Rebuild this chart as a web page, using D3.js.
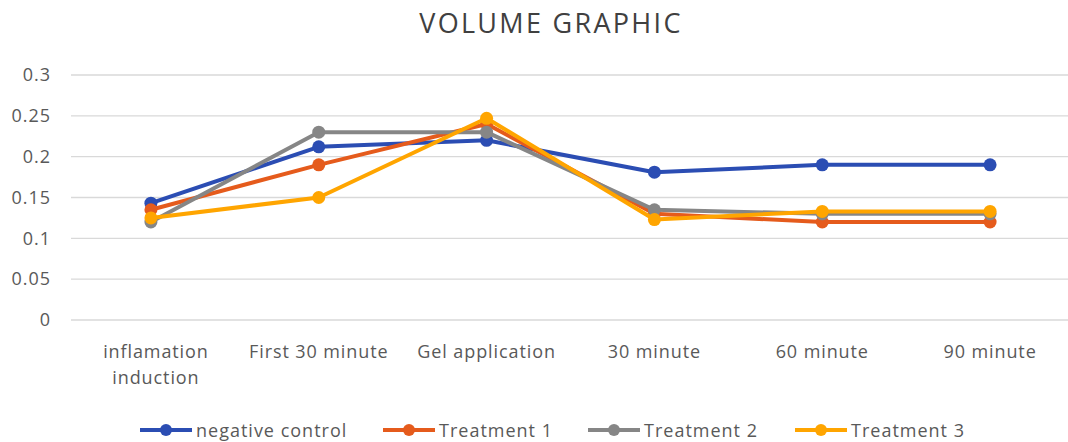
<!DOCTYPE html>
<html><head><meta charset="utf-8">
<script src="https://cdn.jsdelivr.net/npm/d3@7"></script>
<style>body{margin:0;background:#fff}svg{display:block}text{font-family:"Open Sans","Noto Sans",sans-serif}</style>
</head><body><svg id="c" width="1068" height="442"></svg>
<script>
const categories = ["inflamation induction","First 30 minute","Gel application","30 minute","60 minute","90 minute"];
const negativeControl = [0.143, 0.212, 0.22, 0.181, 0.19, 0.19];
const treatment1 = [0.135, 0.19, 0.24, 0.13, 0.12, 0.12];
const treatment2 = [0.12, 0.23, 0.23, 0.135, 0.13, 0.13];
const treatment3 = [0.125, 0.15, 0.247, 0.123, 0.133, 0.133];
const seriesNames = ["negative control","Treatment 1","Treatment 2","Treatment 3"];
const seriesColors = ["#2B4DB3","#E55B1C","#868686","#FFA500"];
const yTicks = [0,0.05,0.1,0.15,0.2,0.25,0.3];
const series = [negativeControl, treatment1, treatment2, treatment3];

const FONT = "'Open Sans','Noto Sans',sans-serif";
const svg = d3.select("#c");
const x = d3.scaleBand().domain(categories).range([67, 1074]);
const y = d3.scaleLinear().domain([0, 0.3]).range([320, 75]);

svg.append("text").attr("x", 551).attr("y", 33).attr("text-anchor","middle")
  .attr("font-size", 27).attr("letter-spacing", 2.3).attr("fill","#404040").text("VOLUME GRAPHIC");

// grid
svg.append("g").selectAll("line").data(yTicks).join("line")
  .attr("x1", 71).attr("x2", 1068).attr("y1", d=>y(d)).attr("y2", d=>y(d))
  .attr("stroke","#d9d9d9").attr("stroke-width",1.3);

const yAxis = svg.append("g").attr("transform","translate(70,0)")
  .call(d3.axisLeft(y).tickValues(yTicks).tickFormat(d=>String(d)).tickSize(0).tickPadding(19));
yAxis.select(".domain").remove();
yAxis.selectAll("text").attr("font-size",18).attr("letter-spacing",1).attr("fill","#595959").attr("font-family",FONT);

const xAxis = svg.append("g").attr("transform","translate(0,320)")
  .call(d3.axisBottom(x).tickSize(0).tickPadding(25));
xAxis.select(".domain").remove();
xAxis.selectAll("text").attr("font-size",18).attr("letter-spacing",0.9).attr("fill","#595959").attr("font-family",FONT)
  .each(function(d){
    if(d === "inflamation induction"){
      const t = d3.select(this); t.text(null);
      t.append("tspan").attr("x",5).attr("dy","0.71em").text("inflamation");
      t.append("tspan").attr("x",5).attr("dy","1.45em").text("induction");
      t.attr("dy",null);
    }
  });

const cx = d => x(d) + x.bandwidth()/2;
const line = d3.line().x((v,i)=>cx(categories[i])).y(v=>y(v));
series.forEach((s,k)=>{
  const g = svg.append("g");
  g.append("path").datum(s).attr("d", line).attr("fill","none")
    .attr("stroke", seriesColors[k]).attr("stroke-width",4).attr("stroke-linejoin","round");
  g.selectAll("circle").data(s).join("circle")
    .attr("cx",(v,i)=>cx(categories[i])).attr("cy",v=>y(v)).attr("r",6.5).attr("fill",seriesColors[k]);
});

// legend
const legX = [140, 383, 588, 795];
const lg = svg.append("g");
seriesNames.forEach((n,k)=>{
  const g = lg.append("g").attr("transform",`translate(${legX[k]},430)`);
  g.append("line").attr("x1",0).attr("x2",52).attr("stroke",seriesColors[k]).attr("stroke-width",4);
  g.append("circle").attr("cx",26).attr("r",6).attr("fill",seriesColors[k]);
  g.append("text").attr("x",56).attr("y",6.5).attr("font-size",18).attr("letter-spacing",1).attr("fill","#595959").text(n);
});
</script></body></html>
